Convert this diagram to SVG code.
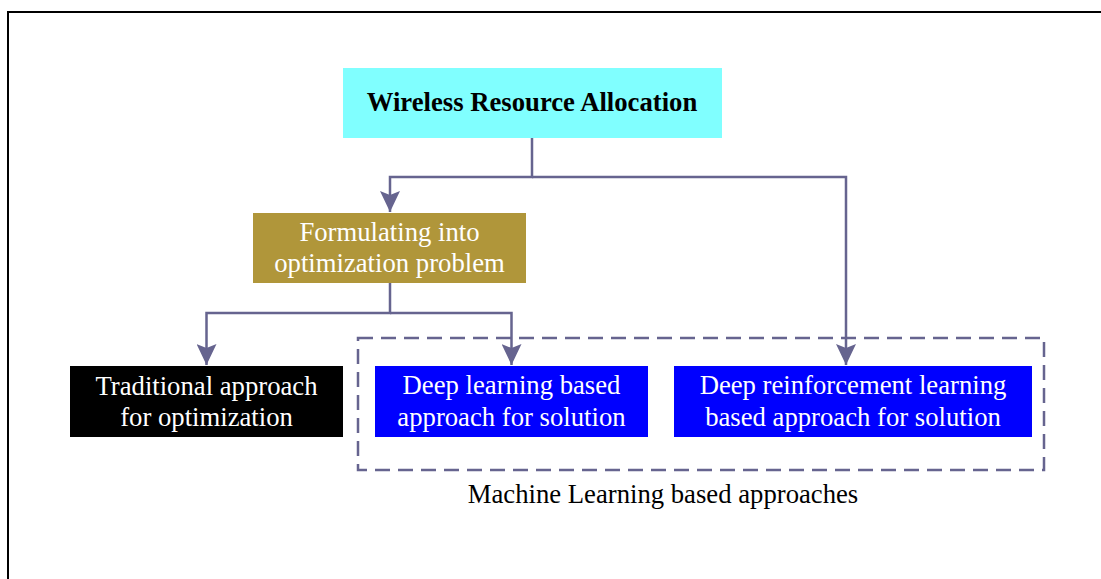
<svg xmlns="http://www.w3.org/2000/svg" width="1101" height="579" viewBox="0 0 1101 579">
<style>
.t{font-family:"Liberation Serif","Times New Roman",serif;font-size:26.7px;text-anchor:middle}
.w{fill:#ffffff}
.k{fill:#000000}
.b{font-weight:bold}
.c{fill:none;stroke:#66648f;stroke-width:2.5}
</style>
<defs>
<marker id="ah" markerUnits="userSpaceOnUse" markerWidth="22" markerHeight="20" viewBox="0 0 22 20" refX="21" refY="10" orient="auto">
<path d="M0,0 L21,10 L0,20 L4,10 z" fill="#66648f"/>
</marker>
</defs>
<rect x="0" y="0" width="1101" height="579" fill="#ffffff"/>
<rect x="8" y="12" width="1200" height="700" fill="none" stroke="#000" stroke-width="2"/>
<g id="connectors">
<path class="c" d="M532,138 V177 H390 V212" marker-end="url(#ah)"/>
<path class="c" d="M532,177 H846 V365" marker-end="url(#ah)"/>
<path class="c" d="M390,283 V313 H206.5 V365" marker-end="url(#ah)"/>
<path class="c" d="M390,313 H511.5 V365" marker-end="url(#ah)"/>
</g>
<g id="ml-group">
<rect x="358" y="338" width="686" height="132" fill="none" stroke="#66648f" stroke-width="2.5" stroke-dasharray="15,8"/>
<text class="t k" x="663" y="503">Machine Learning based approaches</text>
</g>
<g id="wra">
<rect x="343" y="68" width="379" height="70" fill="#80ffff"/>
<text class="t k b" x="532" y="111">Wireless Resource Allocation</text>
</g>
<g id="formulating">
<rect x="253" y="213" width="273" height="70" fill="#b0963a"/>
<text class="t w" x="389.5" y="240.5">Formulating into</text>
<text class="t w" x="389.5" y="271.5">optimization problem</text>
</g>
<g id="traditional">
<rect x="70" y="366" width="273" height="71" fill="#000000"/>
<text class="t w" x="206.5" y="395">Traditional approach</text>
<text class="t w" x="206.5" y="426">for optimization</text>
</g>
<g id="dl">
<rect x="375" y="366" width="273" height="71" fill="#0000ff"/>
<text class="t w" x="511.5" y="394">Deep learning based</text>
<text class="t w" x="511.5" y="425.5">approach for solution</text>
</g>
<g id="drl">
<rect x="674" y="366" width="358" height="71" fill="#0000ff"/>
<text class="t w" x="853" y="394">Deep reinforcement learning</text>
<text class="t w" x="853" y="425.5">based approach for solution</text>
</g>
</svg>
